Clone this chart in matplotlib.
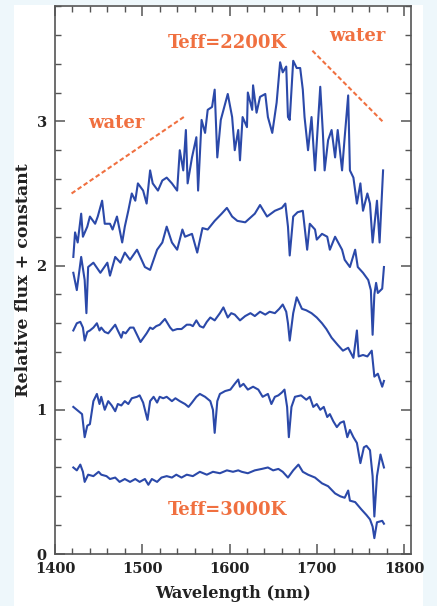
import matplotlib
matplotlib.use("Agg")
import matplotlib.pyplot as plt
from matplotlib.patches import Rectangle
from matplotlib.ticker import MultipleLocator

# ---- data (wavelength in nm, relative flux + constant) ----
wl_2200 = [1421, 1423, 1426, 1430, 1432, 1437, 1440, 1446, 1449, 1454, 1457, 1463, 1466, 1471,
           1477, 1480, 1484, 1488, 1492, 1495, 1501, 1505, 1509, 1512, 1518, 1523, 1528, 1534,
           1540, 1543, 1547, 1550, 1552, 1557, 1562, 1564, 1568, 1572, 1575, 1580, 1583, 1586,
           1590, 1594, 1598, 1603, 1606, 1610, 1612, 1615, 1620, 1621, 1626, 1627, 1631, 1635,
           1641, 1644, 1649, 1654, 1658, 1661, 1665, 1667, 1669, 1673, 1677, 1681, 1684, 1686,
           1690, 1694, 1698, 1704, 1707, 1709, 1713, 1717, 1721, 1724, 1729, 1732, 1736, 1738,
           1742, 1746, 1750, 1753, 1758, 1761, 1764, 1769, 1772, 1776]
fx_2200 = [2.06, 2.23, 2.16, 2.36, 2.20, 2.27, 2.34, 2.29, 2.34, 2.45, 2.29, 2.29, 2.25, 2.34,
           2.16, 2.27, 2.38, 2.50, 2.45, 2.57, 2.52, 2.43, 2.66, 2.57, 2.52, 2.59, 2.61, 2.57,
           2.52, 2.80, 2.66, 2.94, 2.57, 2.75, 2.89, 2.52, 3.01, 2.92, 3.08, 3.10, 3.22, 2.75,
           3.01, 3.10, 3.19, 3.03, 2.80, 2.94, 2.73, 3.03, 2.96, 3.20, 3.08, 3.25, 3.06, 3.17,
           3.19, 3.03, 2.92, 3.13, 3.41, 3.34, 3.38, 3.03, 3.01, 3.42, 3.37, 3.37, 3.22, 3.03,
           2.80, 3.03, 2.66, 3.24, 2.92, 2.66, 2.87, 2.94, 2.75, 2.94, 2.66, 2.89, 3.18, 2.66,
           2.61, 2.43, 2.57, 2.38, 2.50, 2.43, 2.16, 2.45, 2.16, 2.66]

wl_b = [1421, 1425, 1430, 1434, 1436, 1438, 1444, 1452, 1460, 1463, 1469, 1475, 1480, 1486,
        1494, 1503, 1509, 1517, 1523, 1528, 1534, 1540, 1546, 1549, 1557, 1563, 1569, 1575,
        1583, 1591, 1597, 1603, 1609, 1618, 1629, 1635, 1643, 1652, 1660, 1664, 1667, 1669,
        1673, 1678, 1684, 1689, 1692, 1698, 1700, 1706, 1712, 1715, 1721, 1729, 1732, 1738,
        1744, 1747, 1753, 1759, 1762, 1764, 1766, 1768, 1770, 1775, 1777]
fx_b = [1.95, 1.83, 2.06, 1.90, 1.67, 1.99, 2.02, 1.95, 2.02, 1.93, 2.06, 2.02, 2.09, 2.04,
        2.11, 1.99, 1.97, 2.11, 2.16, 2.27, 2.16, 2.11, 2.25, 2.20, 2.22, 2.09, 2.26, 2.25,
        2.31, 2.36, 2.40, 2.34, 2.31, 2.30, 2.36, 2.42, 2.34, 2.38, 2.40, 2.43, 2.27, 2.07,
        2.34, 2.37, 2.38, 2.11, 2.29, 2.25, 2.18, 2.22, 2.20, 2.11, 2.20, 2.11, 2.04, 1.99,
        2.11, 1.99, 1.95, 1.90, 1.83, 1.52, 1.80, 1.88, 1.81, 1.84, 1.99]

wl_c = [1421, 1425, 1429, 1432, 1434, 1437, 1440, 1444, 1448, 1451, 1453, 1457, 1461, 1465,
        1469, 1472, 1476, 1478, 1481, 1486, 1490, 1494, 1498, 1505, 1509, 1512, 1516, 1520,
        1526, 1532, 1535, 1540, 1545, 1551, 1555, 1558, 1562, 1566, 1570, 1574, 1578, 1583,
        1589, 1593, 1598, 1602, 1606, 1612, 1618, 1624, 1629, 1635, 1641, 1646, 1652, 1657,
        1661, 1665, 1667, 1669, 1673, 1677, 1683, 1688, 1694, 1700, 1706, 1711, 1717, 1724,
        1730, 1736, 1742, 1746, 1748, 1753, 1758, 1763, 1766, 1770, 1775, 1777]
fx_c = [1.55, 1.60, 1.61, 1.57, 1.48, 1.54, 1.55, 1.57, 1.60, 1.55, 1.57, 1.54, 1.53, 1.56,
        1.59, 1.55, 1.50, 1.54, 1.53, 1.57, 1.57, 1.52, 1.47, 1.53, 1.57, 1.56, 1.58, 1.59,
        1.63, 1.57, 1.55, 1.56, 1.56, 1.59, 1.59, 1.58, 1.62, 1.58, 1.57, 1.61, 1.64, 1.62,
        1.67, 1.71, 1.64, 1.67, 1.66, 1.62, 1.65, 1.67, 1.65, 1.68, 1.66, 1.68, 1.67, 1.70,
        1.73, 1.68, 1.60, 1.48, 1.67, 1.78, 1.70, 1.69, 1.67, 1.64, 1.60, 1.56, 1.50, 1.45,
        1.41, 1.43, 1.36, 1.55, 1.37, 1.38, 1.37, 1.41, 1.23, 1.25, 1.16, 1.20]

wl_d = [1421, 1427, 1431, 1434, 1437, 1440, 1444, 1448, 1451, 1453, 1457, 1461, 1465, 1469,
        1472, 1476, 1480, 1484, 1488, 1494, 1497, 1501, 1506, 1509, 1513, 1517, 1520, 1524,
        1528, 1534, 1538, 1543, 1549, 1553, 1557, 1562, 1566, 1572, 1578, 1581, 1583, 1586,
        1589, 1595, 1601, 1606, 1610, 1612, 1616, 1621, 1627, 1633, 1638, 1644, 1648, 1652,
        1656, 1660, 1663, 1666, 1668, 1671, 1675, 1682, 1688, 1692, 1696, 1700, 1704, 1708,
        1712, 1715, 1719, 1723, 1727, 1731, 1735, 1738, 1742, 1746, 1750, 1754, 1757, 1761,
        1764, 1766, 1769, 1773, 1777]
fx_d = [1.02, 0.99, 0.97, 0.81, 0.89, 0.90, 1.06, 1.11, 1.04, 1.09, 1.00, 1.06, 1.03, 0.99,
        1.04, 1.03, 1.06, 1.04, 1.08, 1.09, 1.10, 1.05, 0.93, 1.06, 1.09, 1.05, 1.09, 1.08,
        1.09, 1.06, 1.08, 1.06, 1.04, 1.02, 1.05, 1.09, 1.11, 1.09, 1.06, 1.00, 0.84, 1.06,
        1.11, 1.13, 1.14, 1.18, 1.21, 1.16, 1.18, 1.14, 1.16, 1.14, 1.09, 1.11, 1.04, 1.09,
        1.10, 1.12, 1.14, 1.02, 0.81, 1.02, 1.09, 1.10, 1.07, 1.09, 1.02, 1.04, 1.00, 1.02,
        0.95, 0.97, 0.92, 0.88, 0.91, 0.92, 0.81, 0.86, 0.81, 0.77, 0.63, 0.74, 0.75, 0.72,
        0.54, 0.26, 0.54, 0.69, 0.60]

wl_3000 = [1421, 1425, 1429, 1432, 1434, 1438, 1444, 1450, 1453, 1459, 1463, 1469, 1474, 1480,
           1486, 1492, 1497, 1503, 1507, 1511, 1517, 1522, 1528, 1534, 1539, 1545, 1551, 1558,
           1566, 1574, 1581, 1589, 1597, 1604, 1610, 1614, 1621, 1629, 1637, 1644, 1650, 1656,
           1661, 1667, 1673, 1679, 1684, 1690, 1698, 1706, 1713, 1721, 1727, 1732, 1736, 1738,
           1744, 1751, 1757, 1761, 1764, 1766, 1769, 1775, 1777]
fx_3000 = [0.60, 0.58, 0.62, 0.57, 0.50, 0.55, 0.54, 0.57, 0.55, 0.54, 0.52, 0.53, 0.50, 0.52,
           0.50, 0.52, 0.50, 0.52, 0.48, 0.52, 0.50, 0.53, 0.54, 0.53, 0.55, 0.53, 0.55, 0.54,
           0.57, 0.55, 0.57, 0.56, 0.58, 0.57, 0.58, 0.57, 0.56, 0.58, 0.59, 0.60, 0.58, 0.59,
           0.57, 0.53, 0.58, 0.62, 0.57, 0.55, 0.53, 0.49, 0.47, 0.42, 0.40, 0.39, 0.44, 0.37,
           0.36, 0.31, 0.27, 0.24, 0.19, 0.11, 0.22, 0.23, 0.21]

x_ticks = [1400, 1500, 1600, 1700, 1800]
y_ticks = [0, 1, 2, 3]

# annotations
label_hot = "Teff=2200K"
label_cool = "Teff=3000K"
water_left_line = ([1419, 1550], [2.50, 3.04])
water_right_line = ([1695, 1777], [3.49, 2.99])

# ---- style ----
W, H, DPI = 437, 606, 100
blue = "#2b49a9"
orange = "#f07040"
frame = "#555555"
font = "DejaVu Serif"

fig = plt.figure(figsize=(W / DPI, H / DPI), dpi=DPI)
fig.patch.set_facecolor("#eef7fb")
fig.patches.append(Rectangle((14 / W, 0), 409 / W, (H - 5) / H, transform=fig.transFigure,
                             facecolor="white", edgecolor="none", zorder=-10))

ax = fig.add_axes([55 / W, (H - 554) / H, 356 / W, 548 / H])
ax.set_zorder(5)
ax.set_facecolor("white")

for wl, fx in [(wl_2200, fx_2200), (wl_b, fx_b), (wl_c, fx_c), (wl_d, fx_d), (wl_3000, fx_3000)]:
    ax.plot(wl, fx, color=blue, lw=1.5, solid_joinstyle="round")

ax.set_xlim(1400, 1808)
ax.set_ylim(0, 3.8)
ax.set_xticks(x_ticks)
ax.set_yticks(y_ticks)
ax.xaxis.set_minor_locator(MultipleLocator(20))
ax.yaxis.set_minor_locator(MultipleLocator(0.2))
ax.tick_params(which="both", direction="in", top=True, right=True, color=frame,
               labelcolor="#222222", labelsize=10.5)
ax.tick_params(which="major", length=7, width=1.1, pad=6)
ax.tick_params(which="minor", length=4, width=1.0)
for lab in ax.get_xticklabels() + ax.get_yticklabels():
    lab.set_fontfamily(font)
    lab.set_fontweight("bold")
for s in ax.spines.values():
    s.set_color(frame)
    s.set_linewidth(1.2)

ax.set_xlabel("Wavelength (nm)", fontsize=11.7, fontweight="bold", family=font,
              color="#222222", labelpad=6)
ax.set_ylabel("Relative flux + constant", fontsize=12.5, fontweight="bold", family=font,
              color="#222222", labelpad=3)

ax.text(1598, 3.54, label_hot, color=orange, fontsize=13, fontweight="bold", family=font,
        ha="center", va="center")
ax.text(1598, 0.305, label_cool, color=orange, fontsize=13, fontweight="bold", family=font,
        ha="center", va="center")
ax.text(1470, 2.99, "water", color=orange, fontsize=13, fontweight="bold", family=font,
        ha="center", va="center")
ax.text(1747, 3.59, "water", color=orange, fontsize=13, fontweight="bold", family=font,
        ha="center", va="center")
ax.plot(*water_left_line, color=orange, lw=1.5, ls=(0, (2.2, 1.3)))
ax.plot(*water_right_line, color=orange, lw=1.5, ls=(0, (2.2, 1.3)))

fig.savefig("out.png", dpi=DPI, facecolor=fig.get_facecolor())
